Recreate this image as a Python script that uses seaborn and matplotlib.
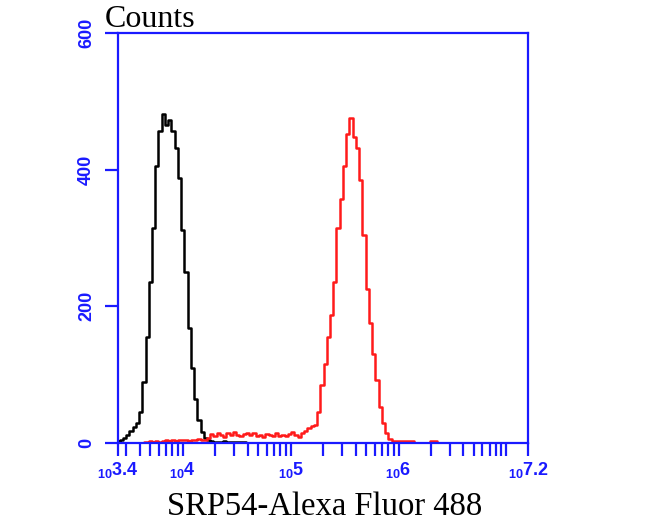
import numpy as np
import pandas as pd
import seaborn as sns
import matplotlib.pyplot as plt

# log10 channel positions and counts
black_log = [3.40, 3.43, 3.46, 3.49, 3.52, 3.55, 3.58, 3.61, 3.64, 3.67,
             3.70, 3.73, 3.76, 3.79, 3.82, 3.85, 3.88, 3.91, 3.94, 3.97,
             4.00, 4.03, 4.06, 4.09, 4.12, 4.15, 4.18, 4.21, 4.24, 4.27,
             4.30, 4.33, 4.36, 4.39, 4.42, 4.45, 4.48, 4.51, 4.54, 4.57, 4.60]
black_counts = [3, 5, 8, 12, 17, 23, 30, 45, 90, 155,
                235, 315, 405, 457, 482, 466, 472, 457, 432, 388,
                312, 250, 168, 110, 65, 33, 16, 8, 5, 3,
                2, 2, 2, 3, 2, 2, 2, 2, 1, 1, 0]

red_log = [3.64, 3.67, 3.70, 3.73, 3.76, 3.79, 3.82, 3.85, 3.88, 3.91,
           3.94, 3.97, 4.00, 4.03, 4.06, 4.09, 4.12, 4.15, 4.18, 4.21,
           4.24, 4.27, 4.30, 4.33, 4.36, 4.39, 4.42, 4.45, 4.48, 4.51,
           4.54, 4.57, 4.60, 4.63, 4.66, 4.69, 4.72, 4.75, 4.78, 4.81,
           4.84, 4.87, 4.90, 4.93, 4.96, 4.99, 5.02, 5.05, 5.08, 5.11,
           5.14, 5.17, 5.20, 5.23, 5.26, 5.29, 5.32, 5.35, 5.38, 5.41,
           5.44, 5.47, 5.50, 5.53, 5.56, 5.59, 5.62, 5.65, 5.68, 5.71,
           5.74, 5.77, 5.80, 5.83, 5.86, 5.89, 5.92, 5.95, 5.98, 6.01,
           6.04, 6.07, 6.10, 6.13, 6.16, 6.19, 6.22, 6.25, 6.28, 6.31,
           6.34, 6.37]
red_counts = [2, 2, 3, 2, 3, 2, 3, 4, 3, 4,
              3, 4, 5, 4, 3, 5, 4, 6, 5, 4,
              8, 13, 10, 15, 12, 9, 14, 11, 16, 12,
              10, 13, 15, 11, 14, 10, 12, 9, 13, 11,
              10, 14, 10, 12, 10, 13, 16, 11, 9, 14,
              18, 22, 25, 27, 45, 85, 115, 155, 188, 235,
              315, 357, 405, 452, 476, 448, 432, 385, 305, 225,
              175, 130, 92, 52, 29, 15, 6, 3, 3, 3,
              3, 3, 3, 3, 0, 0, 0, 0, 0, 3,
              3, 0]

x_major = [3.4, 4, 5, 6, 7.2]
x_major_labels = ["3.4", "4", "5", "6", "7.2"]
y_ticks = [0, 200, 400, 600]

blue = "#1a1aff"

sns.set_style("white")
plt.rcParams["mathtext.default"] = "regular"
plt.rcParams["mathtext.fontset"] = "custom"
plt.rcParams["mathtext.rm"] = "Liberation Sans:bold"

fig = plt.figure(figsize=(6.5, 5.21), dpi=100)
ax = fig.add_axes([118 / 650, 78 / 521, 410 / 650, 410 / 521])

df_black = pd.DataFrame({"x": black_log, "count": black_counts})
df_red = pd.DataFrame({"x": red_log, "count": red_counts})
sns.lineplot(data=df_black, x="x", y="count", color="black", lw=1.8,
             drawstyle="steps-mid", ax=ax)
sns.lineplot(data=df_red, x="x", y="count", color="#ff1a1a", lw=1.8,
             drawstyle="steps-mid", ax=ax)

ax.set_xlim(3.4, 7.2)
ax.set_ylim(0, 600)

# minor ticks at 2..9 x 10^n
minor = []
for d in range(3, 7):
    for k in range(2, 11):
        v = d + np.log10(k)
        if 3.4 < v < 7.2 and v not in x_major:
            minor.append(v)
ax.set_xticks(x_major)
ax.set_xticklabels(["$_{10}$" + s for s in x_major_labels])
ax.set_xticks(minor, minor=True)
ax.set_yticks(y_ticks)
ax.set_yticklabels([str(v) for v in y_ticks], rotation=90, va="center")

for sp in ax.spines.values():
    sp.set_color(blue)
    sp.set_linewidth(1.6)
    sp.set_visible(True)

ax.tick_params(axis="x", which="both", direction="out", length=9, width=1.6,
               color=blue, labelcolor=blue, pad=3, bottom=True)
ax.tick_params(axis="y", which="both", direction="out", length=9.5, width=1.6,
               color=blue, labelcolor=blue, pad=7, left=True)
for lab in ax.get_xticklabels():
    lab.set_fontfamily("Liberation Sans")
    lab.set_fontweight("bold")
    lab.set_fontsize(13)
for lab in ax.get_yticklabels():
    lab.set_fontfamily("Liberation Sans")
    lab.set_fontweight("bold")
    lab.set_fontsize(13)

ax.set_xlabel("")
ax.set_ylabel("")
fig.text(325 / 650, 1 - 507 / 521, "SRP54-Alexa Fluor 488", ha="center",
         va="center", fontsize=23.5, family="Liberation Serif", color="black")
fig.text(105 / 650, 1 - 27 / 521, "Counts", ha="left", va="baseline",
         fontsize=23, family="Liberation Serif", color="black")

fig.savefig("out.png", dpi=100)
